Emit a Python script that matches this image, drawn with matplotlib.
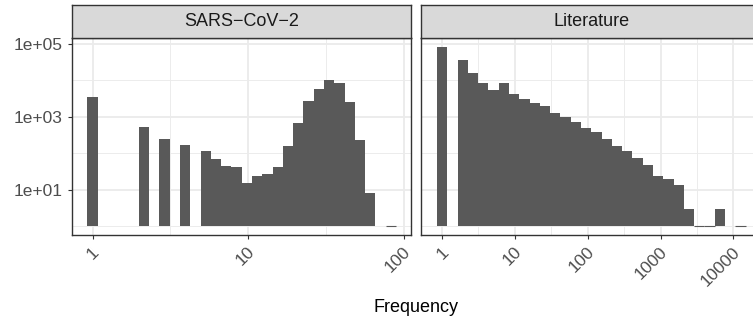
import numpy as np
import matplotlib
matplotlib.use("Agg")
import matplotlib.pyplot as plt
from matplotlib.ticker import NullFormatter
from matplotlib.transforms import ScaledTranslation

plt.rcParams['font.family'] = ['Liberation Sans', 'DejaVu Sans']

# facet titles
panel_titles = ['SARS\u2212CoV\u22122', 'Literature']

# histogram: 30 log-spaced bins, first and last bin centred on min / max frequency
n_bins = 30
freq_ranges = [(1, 83), (1, 12500)]

# counts per bin
sars_counts = [3440, 0, 0, 0, 0, 522, 0, 246, 0, 169, 0, 116, 70, 45, 42,
               15, 23, 27, 42, 158, 671, 2670, 5680, 10000, 8280, 2510, 231, 8, 0, 1]
lit_counts = [81000, 0, 35100, 15500, 8280, 5340, 8280, 4150, 3030, 2360, 1950,
              1260, 980, 716, 491, 382, 246, 158, 116, 75, 48, 24, 19, 13, 3,
              1, 1, 3, 0, 1]
all_counts = [sars_counts, lit_counts]

x_tick_values = [[1, 10, 100], [1, 10, 100, 1000, 10000]]
x_tick_labels = [['1', '10', '100'], ['1', '10', '100', '1000', '10000']]
y_tick_values = [10, 1000, 100000]
y_tick_labels = ['1e+01', '1e+03', '1e+05']
y_minor_values = [1, 100, 10000]

# layout in pixels
W, H = 753, 320
panel_w = 339.5
panel_lefts = [72, 421.5]
strip_top, panel_top, panel_bottom = 5, 38, 235

fig = plt.figure(figsize=(W / 100, H / 100), dpi=100)

ymax_log = np.log10(max(max(c) for c in all_counts))
ylim = (10 ** (-0.05 * ymax_log), 10 ** (1.05 * ymax_log))

for i in range(2):
    left = panel_lefts[i] / W
    ax = fig.add_axes([left, 1 - panel_bottom / H, panel_w / W,
                       (panel_bottom - panel_top) / H])
    lo, hi = np.log10(freq_ranges[i])
    w = (hi - lo) / (n_bins - 1)
    edges_log = lo - w / 2 + w * np.arange(n_bins + 1)
    edges = 10 ** edges_log
    counts = np.array(all_counts[i], dtype=float)
    keep = counts > 1
    ax.bar(edges[:-1][keep], counts[keep] - 1, width=np.diff(edges)[keep],
           bottom=1, align='edge', color='#595959', linewidth=0, zorder=2)
    # bins holding a single count are flat bars on the baseline
    ones = counts == 1
    ax.hlines(np.ones(ones.sum()), edges[:-1][ones], edges[1:][ones],
              color='#595959', linewidth=0.8, zorder=2)

    ax.set_xscale('log')
    ax.set_yscale('log')
    ext = edges_log[-1] - edges_log[0]
    x_lo, x_hi = edges_log[0] - 0.05 * ext, edges_log[-1] + 0.05 * ext

    # ticks and grid
    x_minor = [10 ** (k + 0.5) for k in range(int(np.floor(x_lo)), int(np.ceil(x_hi)))
               if x_lo < k + 0.5 < x_hi]
    ax.set_xticks(x_tick_values[i])
    ax.set_xticklabels(x_tick_labels[i], rotation=45, ha='right', va='center',
                       rotation_mode='anchor')
    ax.set_xticks(x_minor, minor=True)
    ax.set_yticks(y_tick_values)
    ax.set_yticks(y_minor_values, minor=True)
    ax.xaxis.set_minor_formatter(NullFormatter())
    ax.yaxis.set_minor_formatter(NullFormatter())
    if i == 0:
        ax.set_yticklabels(y_tick_labels)
    else:
        ax.set_yticklabels([])
    ax.set_xlim(10 ** x_lo, 10 ** x_hi)
    ax.set_ylim(*ylim)

    ax.tick_params(which='major', length=3, width=0.8, color='#333333',
                   labelcolor='#4D4D4D', labelsize=12.5)
    ax.tick_params(axis='y', pad=3.8)
    ax.tick_params(axis='x', pad=7.5)
    if i == 1:
        ax.tick_params(axis='y', which='major', length=0)
    ax.tick_params(which='minor', length=0)
    ax.grid(which='major', color='#EBEBEB', linewidth=1.3, zorder=0)
    ax.grid(which='minor', color='#EBEBEB', linewidth=0.65, zorder=0)
    ax.set_axisbelow(True)
    for s in ax.spines.values():
        s.set_color('#333333')
        s.set_linewidth(1.0)
        s.set_zorder(3)

    # nudge the rotated labels a little to the right, as in the original
    shift = ScaledTranslation(4 / 100, 0, fig.dpi_scale_trans)
    for lab in ax.get_xticklabels():
        lab.set_transform(lab.get_transform() + shift)

    # facet strip
    st = fig.add_axes([left, 1 - panel_top / H, panel_w / W, (panel_top - strip_top) / H])
    st.set_facecolor('#D9D9D9')
    st.set_xticks([])
    st.set_yticks([])
    for s in st.spines.values():
        s.set_color('#333333')
        s.set_linewidth(1.0)
    st.text(0.5, 0.5, panel_titles[i], ha='center', va='center', size=13,
            color='#1A1A1A', transform=st.transAxes)

fig.text((panel_lefts[0] + panel_lefts[1] + panel_w) / 2 / W, 1 - 311.5 / H,
         'Frequency', ha='center', va='baseline', size=13, color='black')

fig.savefig('out.png', dpi=100)
